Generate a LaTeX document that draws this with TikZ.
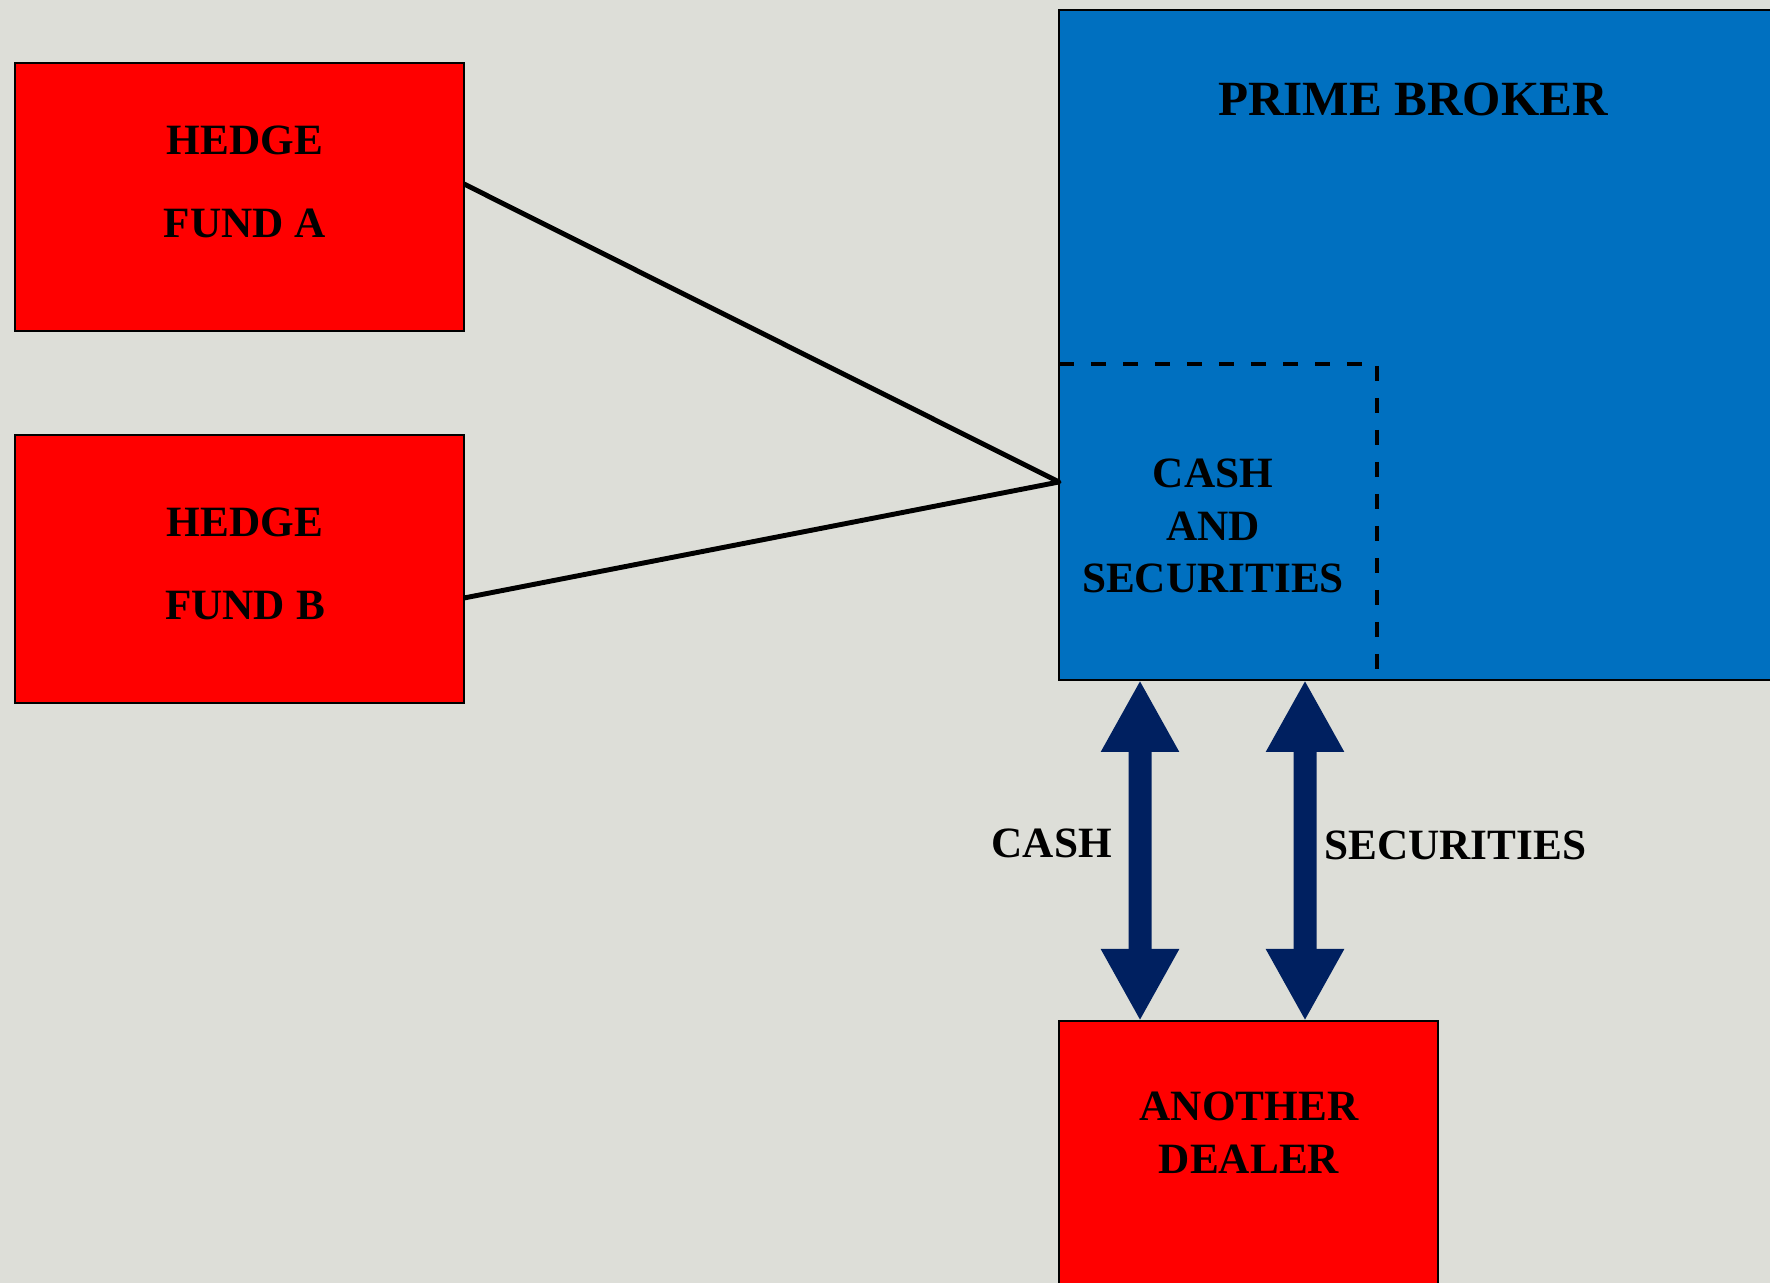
\documentclass[tikz,border=0pt]{standalone}
\usepackage{fontspec}
\setmainfont{Liberation Serif}
\usetikzlibrary{arrows.meta,positioning}
\definecolor{paper}{RGB}{221,222,216}
\definecolor{fundred}{RGB}{255,0,0}
\definecolor{brokerblue}{RGB}{0,112,192}
\definecolor{flownavy}{RGB}{0,32,96}
\tikzset{
  redbox/.style={draw=black, line width=0.8pt, fill=fundred, inner sep=0pt, outer sep=0pt},
  bluebox/.style={draw=black, line width=0.8pt, fill=brokerblue, inner sep=0pt, outer sep=0pt},
  holdbox/.style={inner sep=0pt, outer sep=0pt},
  holddash/.style={draw=black, line width=1.1pt, dash pattern=on 0.15cm off 0.17cm},
  boxtext/.style={font=\fontsize{12.3}{15}\selectfont\bfseries, align=center},
  titletext/.style={font=\fontsize{14}{17}\selectfont\bfseries},
  link/.style={draw=black, line width=1.4pt, line join=round},
  flow/.style={draw=flownavy, line width=0.23cm,
    {Triangle[length=0.72cm,width=0.73cm]}-{Triangle[length=0.72cm,width=0.73cm]}},
}
\newcommand{\fundbox}[2]{node[redbox, minimum width=4.49cm, minimum height=2.68cm](#1) {#2}}

\begin{document}
\begin{tikzpicture}
\useasboundingbox (0,0) rectangle (17.70,-12.83);
\fill[paper] (0,0) rectangle (17.70,-12.83);
% the two funds
\draw (2.395,-1.97) \fundbox{fa}{} ;
\draw (2.395,-5.69) \fundbox{fb}{} ;
\node[boxtext] (fatext) at (2.45,-1.82) {HEDGE\\[0.31cm]FUND A};
\node[boxtext] (fbtext) at (2.45,-5.64) {HEDGE\\[0.31cm]FUND B};
% the broker
\node[bluebox, minimum width=7.31cm, minimum height=6.70cm] (pb) at (14.245,-3.45) {};
\node[titletext] (pbtitle) at (14.13,-0.99) {PRIME BROKER};
\node[holdbox, minimum width=3.18cm, minimum height=3.16cm, anchor=south west] (cs)
  at (pb.south west) {};
\draw[holddash] (cs.north west) -- (cs.north east) -- (cs.south east);
\node[boxtext] (cstext) at (12.13,-5.26) {CASH\\AND\\SECURITIES};
% the dealer
\node[redbox, minimum width=3.79cm, minimum height=2.79cm] (dealer) at (12.485,-11.605) {};
\node[boxtext] (dealertext) at (12.49,-11.33) {ANOTHER\\DEALER};
% links
\draw[link] ([yshift=0.13cm]fa.east) -- ([yshift=-1.37cm]pb.west) -- ([yshift=-0.29cm]fb.east);
\draw[flow] ([xshift=0.81cm]pb.south west) -- ([xshift=0.81cm]dealer.north west)
  node[midway, left=0.05cm, yshift=0.07cm, boxtext] (cashlbl) {CASH};
\draw[flow] ([xshift=2.46cm]pb.south west) -- ([xshift=2.46cm]dealer.north west)
  node[midway, right=-0.04cm, yshift=0.05cm, boxtext] (seclbl) {SECURITIES};
\end{tikzpicture}
\end{document}
